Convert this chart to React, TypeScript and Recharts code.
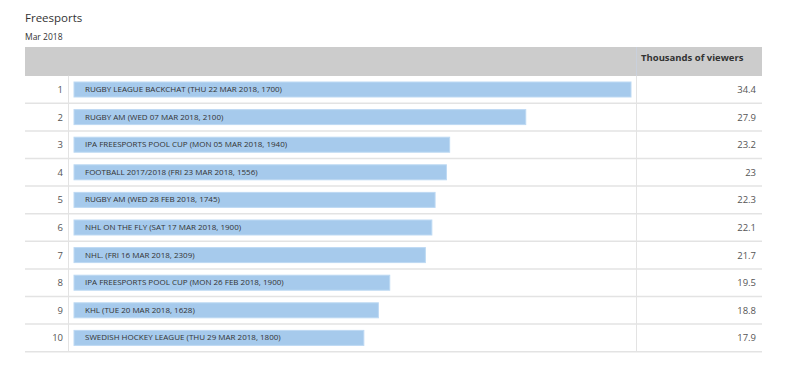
import React from 'react'
import { BarChart, Bar, XAxis, YAxis } from 'recharts'

const ranks = ['1', '2', '3', '4', '5', '6', '7', '8', '9', '10']
const programmes = [
  'RUGBY LEAGUE BACKCHAT (THU 22 MAR 2018, 1700)',
  'RUGBY AM (WED 07 MAR 2018, 2100)',
  'IPA FREESPORTS POOL CUP (MON 05 MAR 2018, 1940)',
  'FOOTBALL 2017/2018 (FRI 23 MAR 2018, 1556)',
  'RUGBY AM (WED 28 FEB 2018, 1745)',
  'NHL ON THE FLY (SAT 17 MAR 2018, 1900)',
  'NHL. (FRI 16 MAR 2018, 2309)',
  'IPA FREESPORTS POOL CUP (MON 26 FEB 2018, 1900)',
  'KHL (TUE 20 MAR 2018, 1628)',
  'SWEDISH HOCKEY LEAGUE (THU 29 MAR 2018, 1800)',
]
const viewers = [34.4, 27.9, 23.2, 23, 22.3, 22.1, 21.7, 19.5, 18.8, 17.9]

const rows = ranks.map((r, i) => ({ rank: r, name: programmes[i], value: viewers[i] }))

const W = 800
const H = 376
const TOP = 76
const BOTTOM = 24
const ROW_H = (H - TOP - BOTTOM) / rows.length
const TABLE_L = 25
const TABLE_R = 762
const SEP_1 = 68.5
const SEP_2 = 636.5
const font = '"Open Sans", "Noto Sans", sans-serif'

function RowShape(props: any) {
  const { x, y, width, height, payload } = props
  const top = y + height / 2 - ROW_H / 2
  const bottom = top + ROW_H
  const mid = y + height / 2
  return (
    <g>
      <line x1={TABLE_L} x2={TABLE_R} y1={bottom} y2={bottom} stroke="#e3e3e3" strokeWidth={1.5} />
      <line x1={SEP_1} x2={SEP_1} y1={top} y2={bottom} stroke="#e3e3e3" />
      <line x1={SEP_2} x2={SEP_2} y1={top} y2={bottom} stroke="#e3e3e3" />
      <text x={63} y={mid + 3.5} textAnchor="end" fontSize={9.5} fill="#555" fontFamily={font}>
        {payload.rank}
      </text>
      <rect x={x} y={y} width={width} height={height} fill="#a6caec" stroke="#bdd9f3" strokeWidth={1} />
      <text x={x + 11} y={mid + 2.5} fontSize={8} fill="#333" fontFamily={font}>
        {payload.name}
      </text>
      <text x={756} y={mid + 3.5} textAnchor="end" fontSize={9.5} fill="#555" fontFamily={font}>
        {payload.value}
      </text>
    </g>
  )
}

export default function App() {
  return (
    <div style={{ position: 'absolute', left: 0, top: 0, width: W, height: H, background: '#fff', fontFamily: font }}>
      <div style={{ position: 'absolute', left: 25, top: 10, fontSize: 11.5, color: '#333' }}>Freesports</div>
      <div style={{ position: 'absolute', left: 25, top: 31, fontSize: 8.5, color: '#333' }}>Mar 2018</div>
      <div style={{ position: 'absolute', left: TABLE_L, top: 47, width: TABLE_R - TABLE_L, height: TOP - 47, background: '#cccccc' }} />
      <div style={{ position: 'absolute', left: SEP_2 - 0.5, top: 47, width: 1, height: TOP - 47, background: '#c9d0dc' }} />
      <div style={{ position: 'absolute', left: 641, top: 51, fontSize: 9.5, fontWeight: 700, color: '#333' }}>
        Thousands of viewers
      </div>
      <div style={{ position: 'absolute', left: 0, top: 0 }}>
        <BarChart
          width={W}
          height={H}
          data={rows}
          layout="vertical"
          margin={{ top: TOP, right: W - 631, bottom: BOTTOM, left: 74 }}
        >
          <XAxis type="number" domain={[0, 'dataMax']} hide />
          <YAxis type="category" dataKey="rank" hide />
          <Bar dataKey="value" barSize={15} shape={RowShape} isAnimationActive={false} />
        </BarChart>
      </div>
    </div>
  )
}
